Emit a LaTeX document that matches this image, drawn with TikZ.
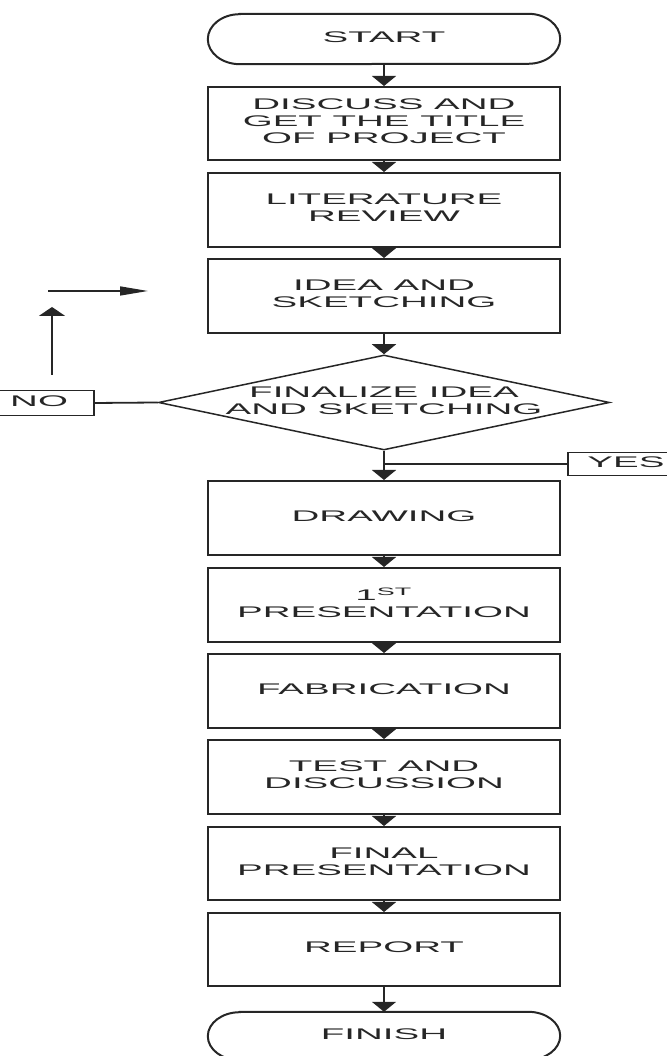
\documentclass[tikz,border=0pt]{standalone}
\usepackage{graphicx}
\usepackage{fontspec}
\setmainfont{Liberation Sans}
\usetikzlibrary{arrows.meta,shapes.geometric}
\newcommand{\stx}[1]{\makebox[0pt]{\scalebox{2.5}[1]{\fontsize{15.4}{17}\selectfont\begin{tabular}{@{}c@{}}#1\end{tabular}}}}
\begin{document}
\begin{tikzpicture}[x=1pt,y=1pt,
  box/.style={draw=black!85, line width=2pt, minimum width=352pt, inner sep=0pt, text=black!85},
  termbox/.style={minimum width=352pt, inner sep=0pt, text=black!85},
  arr/.style={line width=1.8pt, draw=black!85, -{Triangle[width=24pt,length=10pt]}},
  ln/.style={line width=1.8pt, draw=black!85},
  tag/.style={draw=black!85, line width=1.8pt, inner sep=0pt, text=black!85}]
\useasboundingbox (0,0) rectangle (666,1056);

% terminals
\node[termbox, minimum height=50pt] (start) at (384,1017) {\stx{START}};
\draw[line width=2pt, draw=black!85] ([xshift=32pt]start.north west) -- ([xshift=-32pt]start.north east)
  arc[start angle=90, end angle=-90, x radius=32pt, y radius=25pt]
  -- ([xshift=32pt]start.south west)
  arc[start angle=270, end angle=90, x radius=32pt, y radius=25pt] -- cycle;

\node[box, minimum height=73pt] (b1) at (384,932.5) {\stx{DISCUSS AND\\GET THE TITLE\\OF PROJECT}};
\node[box, minimum height=74pt] (b2) at (384,846) {\stx{LITERATURE\\REVIEW}};
\node[box, minimum height=74pt] (b3) at (384,760) {\stx{IDEA AND\\SKETCHING}};
\node[diamond, draw=black!85, line width=1.5pt, aspect=4.75, minimum width=451pt, minimum height=95pt, inner sep=0pt, text=black!85] (dia) at (384,653.5) {\stx{FINALIZE IDEA\\AND SKETCHING}};
\node[box, minimum height=74pt] (drw) at (384,538) {\stx{DRAWING}};
\node[box, minimum height=74pt] (pres) at (384,451) {\stx{1\textsuperscript{ST}\\PRESENTATION}};
\node[box, minimum height=74pt] (fab) at (384,365) {\stx{FABRICATION}};
\node[box, minimum height=74pt] (test) at (384,279) {\stx{TEST AND\\DISCUSSION}};
\node[box, minimum height=73pt] (fin) at (384,192.5) {\stx{FINAL\\PRESENTATION}};
\node[box, minimum height=73pt] (rep) at (384,106.5) {\stx{REPORT}};

\node[termbox, minimum height=48pt] (finish) at (384,20) {\stx{FINISH}};
\draw[line width=2pt, draw=black!85] ([xshift=32pt]finish.north west) -- ([xshift=-32pt]finish.north east)
  arc[start angle=90, end angle=-90, x radius=32pt, y radius=24pt]
  -- ([xshift=32pt]finish.south west)
  arc[start angle=270, end angle=90, x radius=32pt, y radius=24pt] -- cycle;

% NO / YES tags
\node[tag, minimum width=110pt, minimum height=25pt, anchor=east] (no) at (95,653) {\stx{NO}};
\node[tag, minimum width=116pt, minimum height=23pt, anchor=west] (yes) at (567,592) {\stx{YES}};

% connectors
\draw[arr] (start) -- (b1);
\draw[arr] (b1) -- (b2);
\draw[arr] (b2) -- (b3);
\draw[arr] (b3) -- (dia);
\draw[arr] (dia.south) -- (drw.north);
\draw[arr] (drw) -- (pres);
\draw[arr] (pres) -- (fab);
\draw[arr] (fab) -- (test);
\draw[arr] (test) -- (fin);
\draw[arr] (fin) -- (rep);
\draw[arr] (rep.south) -- (finish.north);
\draw[ln] (no.east) -- (dia.west);
\draw[ln] (yes.west) -- (yes.west -| dia.south);

% loose arrows of the NO branch
\coordinate (upA) at (52,681);
\coordinate (upB) at (52,749);
\draw[line width=2.2pt, draw=black!85, -{Triangle[width=26pt,length=9pt]}] (upA) -- (upB);
\coordinate (rtA) at (48,765);
\coordinate (rtB) at (148,765);
\draw[line width=1.5pt, draw=black!85, -{Triangle[width=9pt,length=28pt]}] (rtA) -- (rtB);
\end{tikzpicture}
\end{document}
